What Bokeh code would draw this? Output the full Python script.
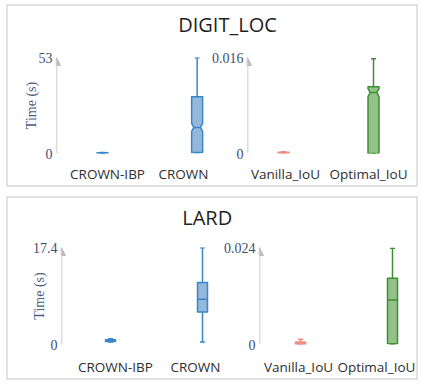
import numpy as np
from bokeh.plotting import figure
from bokeh.models import Range1d, FixedTicker, Arrow, NormalHead, Label, CustomJSTickFormatter
from bokeh.layouts import column, row
from bokeh.embed import file_html
from bokeh.resources import INLINE

# ---------------- data ----------------
datasets = ["DIGIT_LOC", "LARD"]
bound_methods = ["CROWN-IBP", "CROWN"]
iou_methods = ["Vanilla_IoU", "Optimal_IoU"]
# five-number summaries [min, q1, median, q3, max] (seconds)
digit_crown_ibp = [0.1, 0.2, 0.3, 0.4, 0.6]
digit_crown = [0.4, 0.6, 14.4, 31.3, 52.8]
digit_vanilla_iou = [0.00005, 0.0001, 0.00015, 0.0002, 0.0003]
digit_optimal_iou = [0.0, 0.00002, 0.01015, 0.01113, 0.0158]
lard_crown_ibp = [0.45, 0.55, 0.7, 0.85, 1.05]
lard_crown = [0.47, 5.85, 8.1, 11.1, 17.35]
lard_vanilla_iou = [0.0, 0.00005, 0.0003, 0.0006, 0.0013]
lard_optimal_iou = [0.0, 0.0002, 0.011, 0.0164, 0.0238]
# y-axis maxima (top tick labels)
digit_bound_max = 53
digit_iou_max = 0.016
lard_bound_max = 17.4
lard_iou_max = 0.024
y_label = "Time (s)"

# ---------------- styles ----------------
SERIF = "Liberation Serif"
SANS = "Open Sans"
BLUE = ("#3a86c8", "#93b8dc")
SALMON = ("#ef8b81", "#f5b6ae")
GREEN = ("#3e8e33", "#93c288")
AXIS_GRAY = "#bdbdbd"
GRID = "#e4e9f1"


def make_subplot(methods, stats, ymax, palette, width, height, borders, x_span,
                 tick_pos, box_px, notch, label_standoff, ylabel=None, ylabel_standoff=0):
    bl, br, bt, bb = borders
    p = figure(width=width, height=height, x_range=Range1d(*x_span), y_range=Range1d(0, ymax),
               output_backend="svg", toolbar_location=None,
               min_border_left=bl, min_border_right=br, min_border_top=bt, min_border_bottom=bb)
    p.outline_line_color = None
    p.background_fill_color = None
    p.border_fill_color = None
    frame_w = width - bl - br
    frame_h = height - bt - bb
    ux = (x_span[1] - x_span[0]) / frame_w
    uy = ymax / frame_h
    hw = box_px / 2 * ux
    cap = 2.5 * ux
    nh = 4 * uy
    k = 0.6

    pxs, pys, lines, fills = [], [], [], []
    wx0, wy0, wx1, wy1, wcol = [], [], [], [], []
    mx0, mx1, my, mcol = [], [], [], []
    for i, (mn, q1, md, q3, mx) in enumerate(stats):
        cx = float(i)
        lc, fc = palette[i]
        if notch:
            lo = max(md - nh, q1)
            hi = min(md + nh, q3)
            px = [cx - hw, cx + hw, cx + hw, cx + hw * k, cx + hw, cx + hw,
                  cx - hw, cx - hw, cx - hw * k, cx - hw]
            py = [q1, q1, lo, md, hi, q3, q3, hi, md, lo]
            mw = hw * k
        else:
            px = [cx - hw, cx + hw, cx + hw, cx - hw]
            py = [q1, q1, q3, q3]
            mw = hw
        pxs.append(px); pys.append(py); lines.append(lc); fills.append(fc)
        for a, b in ((q3, mx), (q1, mn)):
            wx0.append(cx); wy0.append(a); wx1.append(cx); wy1.append(b); wcol.append(lc)
        for v in (mx, mn):
            wx0.append(cx - cap); wy0.append(v); wx1.append(cx + cap); wy1.append(v); wcol.append(lc)
        mx0.append(cx - mw); mx1.append(cx + mw); my.append(md); mcol.append(lc)

    p.segment(x0=wx0, y0=wy0, x1=wx1, y1=wy1, line_color=wcol, line_width=1.5)
    p.patches(xs=pxs, ys=pys, fill_color=fills, line_color=lines, line_width=1.5, line_join="round")
    p.segment(x0=mx0, y0=my, x1=mx1, y1=my, line_color=mcol, line_width=1.5)

    # y axis
    yt = FixedTicker(ticks=[0, ymax])
    p.yaxis.ticker = yt
    p.yaxis.formatter = CustomJSTickFormatter(code="return String(tick)")
    p.yaxis.axis_line_color = None
    p.yaxis.major_tick_line_color = None
    p.yaxis.minor_tick_line_color = None
    p.yaxis.major_tick_out = 0
    p.yaxis.major_tick_in = 0
    p.yaxis.major_label_standoff = 4
    p.yaxis.major_label_text_font = SERIF
    p.yaxis.major_label_text_font_size = "14px"
    p.yaxis.major_label_text_color = "#3f4d75"
    if ylabel:
        p.yaxis.axis_label = ylabel
        p.yaxis.axis_label_text_font = SERIF
        p.yaxis.axis_label_text_font_size = "14px"
        p.yaxis.axis_label_text_font_style = "normal"
        p.yaxis.axis_label_text_color = "#4d5b86"
        p.yaxis.axis_label_standoff = ylabel_standoff
    p.ygrid.ticker = yt
    p.ygrid.grid_line_color = GRID
    p.ygrid.grid_line_width = 1
    p.xgrid.visible = False

    # x axis
    p.xaxis.ticker = FixedTicker(ticks=list(tick_pos))
    p.xaxis.formatter = CustomJSTickFormatter(
        args=dict(tick_vals=list(tick_pos), names=list(methods)),
        code="""
        let best = 0;
        for (let j = 0; j < tick_vals.length; j++) {
            if (Math.abs(tick_vals[j] - tick) < Math.abs(tick_vals[best] - tick)) best = j;
        }
        return names[best];
        """)
    p.xaxis.axis_line_color = None
    p.xaxis.major_tick_line_color = None
    p.xaxis.minor_tick_line_color = None
    p.xaxis.major_tick_out = 0
    p.xaxis.major_tick_in = 0
    p.xaxis.major_label_standoff = label_standoff
    p.xaxis.major_label_text_font = SANS
    p.xaxis.major_label_text_font_size = "13.5px"
    p.xaxis.major_label_text_color = "#2e2e2e"

    # arrow-style y axis line
    p.add_layout(Arrow(end=NormalHead(size=8, fill_color=AXIS_GRAY, line_color=AXIS_GRAY, line_width=1),
                       x_start=x_span[0], y_start=0, x_end=x_span[0], y_end=ymax,
                       line_color=AXIS_GRAY, line_width=1.5))
    return p


def make_title(text, width, height, cx):
    p = figure(width=width, height=height, x_range=Range1d(0, width), y_range=Range1d(0, height),
               x_axis_type=None, y_axis_type=None, toolbar_location=None, output_backend="svg",
               min_border=0)
    p.outline_line_color = None
    p.background_fill_color = None
    p.border_fill_color = None
    p.add_layout(Label(x=cx, y=height / 2, text=text, text_align="center", text_baseline="middle",
                       text_font=SANS, text_font_size="20px", text_color="#1f1f1f"))
    return p


PANEL_STYLE = {"border": "2px solid #e1e1e1"}

# ---- DIGIT_LOC panel ----
t1 = make_title(datasets[0], 408, 36, 219)
a1 = make_subplot(bound_methods, [digit_crown_ibp, digit_crown], digit_bound_max, [BLUE, BLUE],
                  200, 143, (48, 0, 15, 31), (-0.486, 1.12), (0.053, 0.951), 11, True, 11,
                  ylabel=y_label, ylabel_standoff=-3)
b1 = make_subplot(iou_methods, [digit_vanilla_iou, digit_optimal_iou], digit_iou_max, [SALMON, GREEN],
                  208, 143, (39, 24, 15, 31), (-0.4, 1.211), (0.022, 0.944), 11, True, 11)
panel1 = column(t1, row(a1, b1), styles=PANEL_STYLE)

# ---- LARD panel ----
t2 = make_title(datasets[1], 408, 38, 198.7)
a2 = make_subplot(bound_methods, [lard_crown_ibp, lard_crown], lard_bound_max, [BLUE, BLUE],
                  212, 142, (53, 2, 11, 32), (-0.533, 1.174), (0.054, 0.957), 10, False, 13,
                  ylabel=y_label, ylabel_standoff=-17)
b2 = make_subplot(iou_methods, [lard_vanilla_iou, lard_optimal_iou], lard_iou_max, [SALMON, GREEN],
                  196, 142, (39, 9, 11, 32), (-0.446, 1.163), (-0.022, 0.825), 10, False, 13)
panel2 = column(t2, row(a2, b2), styles=PANEL_STYLE)

root = column(panel1, panel2, spacing=9, styles={"margin-left": "6px", "margin-top": "4px"})

open("out.html", "w").write(file_html(root, INLINE))
